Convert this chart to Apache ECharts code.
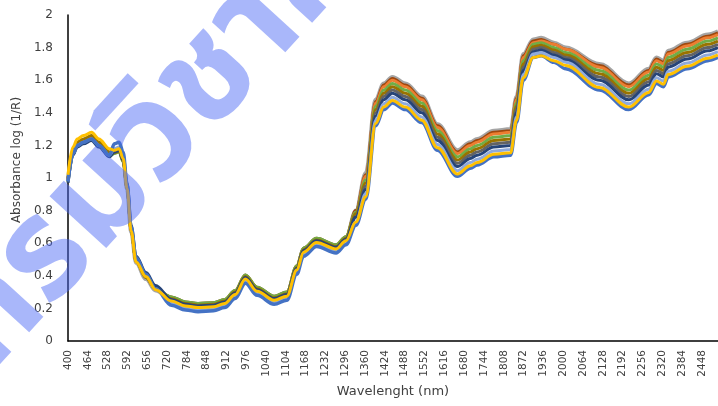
<!DOCTYPE html>
<html>
<head>
<meta charset="utf-8">
<script src="https://cdn.jsdelivr.net/npm/echarts@6/dist/echarts.min.js"></script>
<style>
 html,body{margin:0;padding:0;background:#fff;}
 #chart{width:718px;height:406px;}
</style>
</head>
<body>
<div id="chart"></div>
<script>
var wavelengths=[400,416,430,450,476,500,534,550,565,578,591,604,620,652,683,734,780,820,870,906,940,973,1011,1066,1107,1139,1161,1203,1266,1298,1330,1362,1394,1420,1448,1490,1543,1594,1658,1700,1722,1776,1830,1849,1871,1903,1929,1970,2008,2117,2212,2276,2301,2324,2339,2400,2467,2500];
// x tick labels (every 64 nm, like the Excel category axis)
var tickLabels=[400,464,528,592,656,720,784,848,912,976,1040,1104,1168,1232,1296,1360,1424,1488,1552,1616,1680,1744,1808,1872,1936,2000,2064,2128,2192,2256,2320,2384,2448];

// absorbance log(1/R), one array per sample spectrum
var sGray=[0.99,1.16,1.21,1.23,1.25,1.21,1.15,1.17,1.18,1.12,0.93,0.67,0.48,0.38,0.31,0.26,0.23,0.22,0.225,0.245,0.30,0.395,0.32,0.265,0.29,0.45,0.56,0.62,0.58,0.63,0.80,1.03,1.48,1.58,1.62,1.58,1.50,1.33,1.17,1.22,1.24,1.29,1.30,1.50,1.76,1.85,1.86,1.83,1.80,1.70,1.58,1.67,1.74,1.72,1.78,1.83,1.88,1.90];
var sDarkOrange=[0.99,1.16,1.21,1.23,1.25,1.21,1.15,1.16,1.17,1.11,0.94,0.68,0.49,0.39,0.32,0.27,0.24,0.23,0.235,0.255,0.31,0.405,0.33,0.275,0.30,0.46,0.57,0.63,0.59,0.64,0.80,1.02,1.47,1.57,1.61,1.57,1.49,1.32,1.16,1.21,1.23,1.28,1.29,1.49,1.75,1.84,1.85,1.82,1.79,1.69,1.57,1.66,1.73,1.71,1.77,1.82,1.87,1.89];
var sOrange=[0.99,1.16,1.21,1.23,1.25,1.21,1.15,1.16,1.17,1.11,0.94,0.68,0.49,0.39,0.32,0.265,0.235,0.225,0.23,0.25,0.305,0.40,0.325,0.27,0.295,0.455,0.565,0.625,0.585,0.635,0.79,1.01,1.46,1.56,1.60,1.56,1.48,1.31,1.15,1.20,1.22,1.27,1.28,1.48,1.74,1.83,1.84,1.82,1.79,1.68,1.56,1.65,1.72,1.70,1.76,1.81,1.86,1.88];
var sGreen=[0.975,1.145,1.195,1.215,1.235,1.195,1.135,1.15,1.16,1.10,0.94,0.68,0.49,0.39,0.32,0.27,0.24,0.23,0.235,0.255,0.31,0.405,0.33,0.275,0.30,0.46,0.57,0.63,0.59,0.64,0.79,0.99,1.44,1.54,1.58,1.54,1.46,1.29,1.13,1.18,1.20,1.25,1.26,1.46,1.72,1.82,1.83,1.80,1.77,1.66,1.54,1.63,1.70,1.68,1.74,1.79,1.84,1.86];
var sOlive=[1.00,1.17,1.22,1.24,1.26,1.22,1.16,1.155,1.165,1.105,0.94,0.68,0.49,0.39,0.32,0.26,0.23,0.22,0.225,0.245,0.30,0.395,0.32,0.265,0.29,0.45,0.56,0.62,0.58,0.63,0.78,0.97,1.42,1.52,1.56,1.52,1.44,1.27,1.11,1.16,1.18,1.23,1.24,1.44,1.70,1.805,1.815,1.785,1.755,1.64,1.52,1.61,1.68,1.66,1.72,1.77,1.82,1.84];
var sDarkGray=[0.98,1.15,1.20,1.22,1.24,1.20,1.14,1.16,1.17,1.11,0.95,0.69,0.50,0.40,0.33,0.25,0.22,0.21,0.215,0.235,0.29,0.385,0.31,0.255,0.28,0.44,0.55,0.61,0.57,0.62,0.76,0.95,1.40,1.50,1.54,1.50,1.42,1.25,1.09,1.14,1.16,1.21,1.22,1.42,1.68,1.79,1.80,1.77,1.74,1.62,1.50,1.59,1.66,1.64,1.70,1.75,1.80,1.82];
var sDarkBlue=[0.97,1.14,1.19,1.21,1.23,1.19,1.13,1.16,1.17,1.11,0.97,0.71,0.52,0.42,0.34,0.255,0.225,0.215,0.22,0.24,0.295,0.39,0.315,0.26,0.285,0.445,0.555,0.615,0.575,0.625,0.76,0.93,1.38,1.48,1.52,1.48,1.40,1.23,1.07,1.12,1.14,1.19,1.20,1.40,1.66,1.775,1.785,1.755,1.725,1.60,1.48,1.57,1.64,1.62,1.68,1.73,1.78,1.80];
var sLightBlue=[0.98,1.15,1.20,1.22,1.24,1.20,1.14,1.18,1.19,1.13,0.95,0.69,0.50,0.40,0.32,0.23,0.20,0.19,0.195,0.215,0.27,0.365,0.29,0.235,0.26,0.42,0.53,0.59,0.55,0.60,0.73,0.905,1.355,1.455,1.495,1.455,1.375,1.205,1.045,1.095,1.115,1.165,1.175,1.375,1.635,1.76,1.77,1.74,1.71,1.575,1.455,1.545,1.615,1.595,1.655,1.705,1.755,1.775];
var sBlue=[0.98,1.15,1.20,1.22,1.24,1.20,1.14,1.21,1.22,1.16,0.96,0.70,0.51,0.41,0.32,0.22,0.19,0.18,0.185,0.205,0.26,0.355,0.28,0.225,0.25,0.41,0.52,0.58,0.54,0.59,0.71,0.87,1.32,1.42,1.46,1.42,1.34,1.17,1.01,1.06,1.08,1.13,1.14,1.34,1.60,1.74,1.75,1.71,1.67,1.54,1.42,1.51,1.58,1.56,1.62,1.67,1.72,1.74];
var sYellow=[1.02,1.19,1.24,1.26,1.28,1.24,1.18,1.17,1.18,1.12,0.935,0.675,0.485,0.395,0.315,0.245,0.215,0.205,0.21,0.23,0.285,0.38,0.305,0.25,0.275,0.435,0.545,0.605,0.565,0.615,0.73,0.885,1.335,1.435,1.475,1.435,1.355,1.185,1.025,1.075,1.095,1.145,1.155,1.355,1.615,1.74,1.75,1.72,1.69,1.555,1.435,1.525,1.595,1.575,1.635,1.685,1.735,1.755];

var spectra=[
 {name:'1',color:'#a5a5a5',w:4,v:sGray},
 {name:'2',color:'#9e480e',w:3,v:sDarkOrange},
 {name:'3',color:'#ed7d31',w:3,v:sOrange},
 {name:'4',color:'#70ad47',w:3,v:sGreen},
 {name:'5',color:'#997300',w:3,v:sOlive},
 {name:'6',color:'#636363',w:3,v:sDarkGray},
 {name:'7',color:'#264478',w:3,v:sDarkBlue},
 {name:'8',color:'#8faadc',w:3,v:sLightBlue},
 {name:'9',color:'#4472c4',w:3.5,v:sBlue},
 {name:'10',color:'#ffc000',w:3,v:sYellow}
];

var FONT='DejaVu Sans';
var INK='#404040';

var chart=echarts.init(document.getElementById('chart'),null,{renderer:'canvas'});
chart.setOption({
 animation:false,
 backgroundColor:'#ffffff',
 grid:{left:68,right:-9,top:15,bottom:65},
 xAxis:{
  type:'value',min:400,max:2500,
  name:'Wavelenght (nm)',nameLocation:'middle',nameGap:44,
  nameTextStyle:{fontFamily:FONT,fontSize:13,color:INK},
  axisLine:{lineStyle:{color:'#000',width:1.5}},
  axisTick:{show:false},
  splitLine:{show:false},
  axisLabel:{customValues:tickLabels,rotate:90,fontFamily:FONT,fontSize:10.5,color:INK,margin:9,
   formatter:function(v){return String(v);}}
 },
 yAxis:{
  type:'value',min:0,max:2,interval:0.2,
  name:'Absorbance log (1/R)',nameLocation:'middle',nameGap:44,
  nameTextStyle:{fontFamily:FONT,fontSize:12,color:INK,padding:[0,0,0,36]},
  axisLine:{show:true,lineStyle:{color:'#000',width:1.5}},
  axisTick:{show:false},
  splitLine:{show:false},
  axisLabel:{fontFamily:FONT,fontSize:12,color:INK,margin:15}
 },
 series:spectra.map(function(s){
  return {type:'line',name:s.name,showSymbol:false,symbol:'none',
   smooth:0.35,smoothMonotone:'x',
   lineStyle:{color:s.color,width:s.w},itemStyle:{color:s.color},
   data:wavelengths.map(function(w,i){return [w,s.v[i]];})};
 }),
 graphic:[{
  type:'text',z:100,x:-30,y:355,rotation:0.83,
  style:{text:'กรมวิชาการเกษตร',font:'bold 140px "Noto Sans Thai", "Noto Sans Thai UI", sans-serif',
   fill:'rgba(75,105,245,0.48)',verticalAlign:'middle',align:'left'}
 }]
});
</script>
</body>
</html>
